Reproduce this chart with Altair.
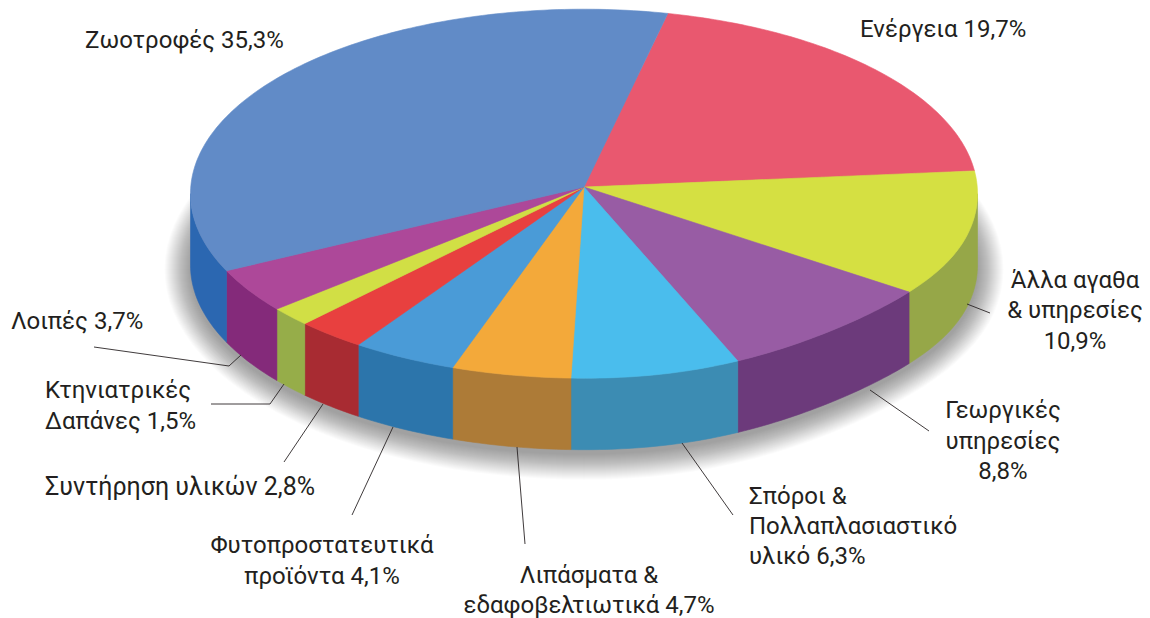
import math
import altair as alt
import pandas as pd

# Slice order clockwise from the blue/red seam; apparent angular width as drawn in the tilted pie (degrees)
categories = ["Ενέργεια", "Άλλα αγαθα & υπηρεσίες", "Γεωργικές υπηρεσίες", "Σπόροι & Πολλαπλασιαστικό υλικό",
              "Λιπάσματα & εδαφοβελτιωτικά", "Φυτοπροστατευτικά προϊόντα", "Συντήρηση υλικών",
              "Κτηνιατρικές Δαπάνες", "Λοιπές", "Ζωοτροφές"]
shares = [19.7, 10.9, 8.8, 6.3, 4.7, 4.1, 2.8, 1.5, 3.7, 35.3]
apparent_degrees = [70.6, 41.4, 32.7, 24.9, 17.6, 15.5, 10.2, 6.1, 14.0, 127.0]
start_angle = 12.3
top_colors = ["#E9586F", "#D5E042", "#985CA4", "#4ABDED", "#F3A93A", "#4A9BD7", "#E8403F", "#D1DF45", "#AD4899", "#618BC7"]
side_colors = ["#B03A4C", "#96A748", "#6C3A7B", "#3C8CB3", "#AD7B37", "#2C75AB", "#A82B32", "#96AD49", "#842A7A", "#2B67B1"]

label_text = ["Ζωοτροφές 35,3%", "Ενέργεια 19,7%", "Άλλα αγαθα", "& υπηρεσίες", "10,9%", "Γεωργικές", "υπηρεσίες", "8,8%",
              "Σπόροι &", "Πολλαπλασιαστικό", "υλικό 6,3%", "Λιπάσματα &", "εδαφοβελτιωτικά 4,7%",
              "Φυτοπροστατευτικά", "προϊόντα 4,1%", "Συντήρηση υλικών 2,8%", "Κτηνιατρικές", "Δαπάνες 1,5%", "Λοιπές 3,7%"]
label_x = [85, 860, 1075, 1075, 1075, 1003, 1003, 1003, 749, 749, 749, 589, 589, 322, 322, 45, 45, 45, 11]
label_y = [48, 37, 288, 318, 349, 418, 449, 479, 504, 534, 564, 583, 613, 553, 584, 495, 398, 429, 329]
label_align = ["left", "left", "center", "center", "center", "center", "center", "center", "left", "left", "left",
               "center", "center", "center", "center", "left", "left", "left", "left"]
label_size = [24, 24, 24, 24, 24, 24, 24, 24, 24, 24, 24, 24, 24, 24, 24, 25, 24, 24, 24]

leader_id = [0, 0, 0, 1, 1, 1, 2, 2, 3, 3, 4, 4, 5, 5, 6, 6, 7, 7]
leader_x = [94, 229, 241, 211, 270, 284, 284, 323, 352, 393, 517, 525, 682, 733, 870, 929, 967, 990]
leader_y = [347, 366, 355, 404, 404, 384, 462, 404, 515, 427, 447, 544, 443, 515, 390, 431, 304, 313]

CX, CY, RX, RY = 584.0, 193.7, 393.5, 184.5
APEX_Y = 187.0
DEPTH = 71.5
FLATTEN = 7.0  # the lower right rim sits slightly inside a true ellipse


def rim(t, extra_y=0.0, grow=0.0):
    r = math.radians(t)
    u = (t % 360) - 90
    dy = -FLATTEN * math.sin(math.radians(2 * u)) ** 3 if 0 < u < 90 else 0.0
    return CX + (RX + grow) * math.sin(r), CY + extra_y + dy - (RY + grow) * math.cos(r)


def arc(t0, t1, extra_y=0.0, grow=0.0, step=1.0):
    n = max(2, int(abs(t1 - t0) / step) + 1)
    return [rim(t0 + (t1 - t0) * i / (n - 1), extra_y, grow) for i in range(n)]


top_rows, side_rows, shadow_rows = [], [], []
t = start_angle
for i, width in enumerate(apparent_degrees):
    t0, t1 = t, t + width
    pts = [(CX, APEX_Y)] + arc(t0, t1)
    top_rows += [dict(s=i, o=k, x=p[0], y=p[1], c=top_colors[i]) for k, p in enumerate(pts)]
    a, b = max(t0, 90.0), min(t1, 270.0)
    if b > a:
        pts = arc(a, b) + arc(b, a, DEPTH)
        side_rows += [dict(s=i, o=k, x=p[0], y=p[1], c=side_colors[i]) for k, p in enumerate(pts)]
    t = t1

shadow_layers = list(range(26, 0, -1))
for j, g in enumerate(shadow_layers):
    pts = arc(0, 360, DEPTH + 4, g, 3.0)
    shadow_rows += [dict(s=j, o=k, x=p[0], y=p[1]) for k, p in enumerate(pts)]

xs = alt.Scale(domain=[8, 1142], range=[0, 1134], nice=False, zero=False)
ys = alt.Scale(domain=[8, 618], range=[0, 610], nice=False, zero=False)
X = alt.X("x:Q", scale=xs, axis=None)
Y = alt.Y("y:Q", scale=ys, axis=None)

shadow = alt.Chart(pd.DataFrame(shadow_rows)).mark_line(
    filled=True, interpolate="linear-closed", strokeWidth=0
).encode(x=X, y=Y, order="o:Q", detail="s:N", fill=alt.value("#000000"), opacity=alt.value(0.014))


def poly(rows):
    return alt.Chart(pd.DataFrame(rows)).mark_line(filled=True, strokeWidth=0.6, interpolate="linear-closed").encode(
        x=X, y=Y, order="o:Q", detail="s:N",
        fill=alt.Fill("c:N", scale=None), stroke=alt.Stroke("c:N", scale=None))


leaders = alt.Chart(pd.DataFrame(dict(x=leader_x, y=leader_y, g=leader_id, o=range(len(leader_x))))).mark_line(
    color="#2A2526", strokeWidth=0.9).encode(x=X, y=Y, order="o:Q", detail="g:N")

labels_df = pd.DataFrame(dict(x=label_x, y=label_y, t=label_text, a=label_align, z=label_size))
label_layers = [
    alt.Chart(labels_df[labels_df.a == al]).mark_text(
        align=al, baseline="alphabetic", font="Roboto", fontWeight=400, color="#231F20"
    ).encode(x=X, y=Y, text="t:N", size=alt.Size("z:Q", scale=None))
    for al in ["left", "center"]
]

chart = alt.layer(shadow, poly(side_rows), poly(top_rows), leaders, *label_layers).properties(
    width=1134, height=610, padding=0, autosize=alt.AutoSizeParams(type="none"),
    background="#FFFFFF"
).configure_view(stroke=None)

chart.save("out.html", embed_options={"renderer": "svg", "actions": False})
